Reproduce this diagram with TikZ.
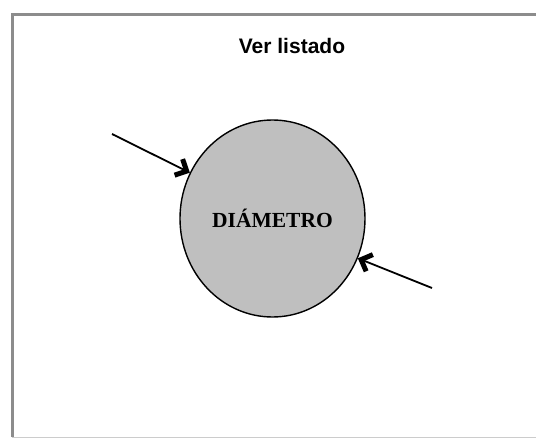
\documentclass[tikz,border=0pt]{standalone}
\usepackage{fontspec}
\newfontfamily\titlefont{Liberation Sans}
\newfontfamily\labelfont{Liberation Serif}
\usetikzlibrary{arrows.meta,shapes.geometric}

\begin{document}
\begin{tikzpicture}[
    x=1pt, y=-1pt,
    frame/.style={draw=black!45, line width=3pt},
    circ/.style={draw, ellipse, line width=1.4pt, fill=black!25, inner sep=0pt, minimum width=185pt, minimum height=197pt, font=\labelfont\bfseries\fontsize{21.5}{24}\selectfont},
    ttl/.style={font=\titlefont\bfseries\fontsize{21}{24}\selectfont},
    flow/.style={-{Straight Barb[length=9pt, width=18pt, line width=5pt]}, line width=1.8pt}
]
\useasboundingbox (0,0) rectangle (536,439);
\draw[frame] (12,437) -- (12,14) -- (536,14);
\draw[draw=black!20, line width=1pt] (12,437.5) -- (536,437.5);
\node[ttl, anchor=base] (title) at (292,53) {Ver listado};
\node[circ] (diam) at (272.5,218.5) {DIÁMETRO};
\coordinate (in1) at (112,134);
\coordinate (in2) at (432,288);
\draw[flow] (in1) -- (diam.151);
\draw[flow] (in2) -- (diam.335);
\end{tikzpicture}
\end{document}
